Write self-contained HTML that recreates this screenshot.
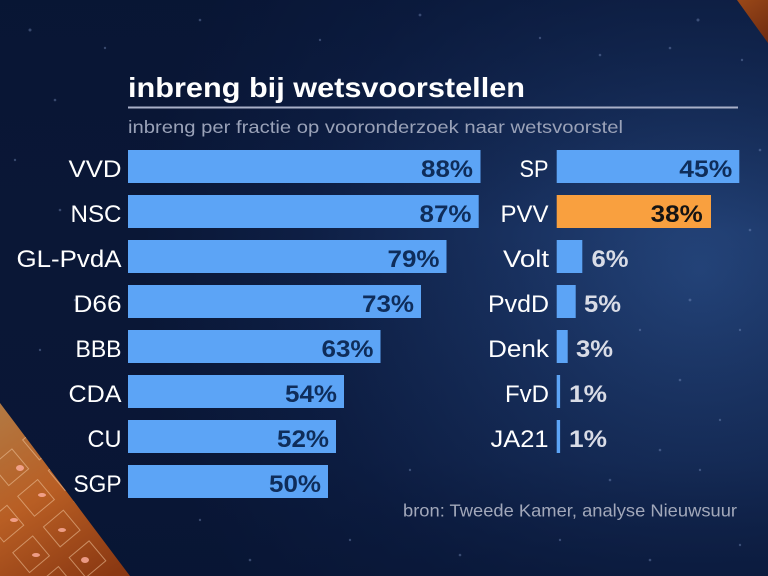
<!DOCTYPE html>
<html>
<head>
<meta charset="utf-8">
<style>
html,body{margin:0;padding:0;width:768px;height:576px;overflow:hidden;background:#0b1838;}
svg{display:block;}
text{font-family:"Liberation Sans",sans-serif;}
</style>
</head>
<body>
<svg width="768" height="576" viewBox="0 0 768 576" xmlns="http://www.w3.org/2000/svg">
<defs>
<radialGradient id="bg" cx="700" cy="270" r="560" gradientUnits="userSpaceOnUse">
<stop offset="0" stop-color="#24447a"/>
<stop offset="0.35" stop-color="#18305e"/>
<stop offset="0.7" stop-color="#0e1f45"/>
<stop offset="1" stop-color="#0a1736"/>
</radialGradient>
<linearGradient id="bgv" x1="0" y1="0" x2="0" y2="576" gradientUnits="userSpaceOnUse">
<stop offset="0" stop-color="#071433" stop-opacity="0.5"/>
<stop offset="0.4" stop-color="#071433" stop-opacity="0"/>
<stop offset="0.8" stop-color="#071433" stop-opacity="0.2"/>
<stop offset="1" stop-color="#071433" stop-opacity="0.6"/>
</linearGradient>
<linearGradient id="or" x1="0" y1="400" x2="110" y2="576" gradientUnits="userSpaceOnUse">
<stop offset="0" stop-color="#b27a44"/>
<stop offset="0.5" stop-color="#b85e24"/>
<stop offset="1" stop-color="#8a3812"/>
</linearGradient>
<linearGradient id="or2" x1="737" y1="0" x2="768" y2="43" gradientUnits="userSpaceOnUse">
<stop offset="0" stop-color="#9a4818"/>
<stop offset="1" stop-color="#6e2a10"/>
</linearGradient>
<clipPath id="oc"><polygon points="0,403 130,576 0,576"/></clipPath>
</defs>

<rect width="768" height="576" fill="url(#bg)"/>
<rect width="768" height="576" fill="url(#bgv)"/>

<!-- stars -->
<g fill="#8fa6d6" opacity="0.35">
<circle cx="30" cy="30" r="1.5"/><circle cx="105" cy="48" r="1.2"/><circle cx="200" cy="20" r="1.3"/><circle cx="320" cy="40" r="1.2"/>
<circle cx="420" cy="15" r="1.4"/><circle cx="540" cy="38" r="1.2"/><circle cx="600" cy="55" r="1.3"/><circle cx="698" cy="20" r="1.5"/>
<circle cx="670" cy="48" r="1.3"/><circle cx="742" cy="60" r="1.2"/><circle cx="55" cy="100" r="1.3"/><circle cx="15" cy="160" r="1.2"/>
<circle cx="60" cy="210" r="1.3"/><circle cx="20" cy="260" r="1.2"/><circle cx="75" cy="300" r="1.3"/><circle cx="40" cy="350" r="1.2"/>
<circle cx="760" cy="150" r="1.3"/><circle cx="710" cy="200" r="1.2"/><circle cx="750" cy="230" r="1.3"/><circle cx="690" cy="300" r="1.4"/>
<circle cx="740" cy="330" r="1.2"/><circle cx="680" cy="380" r="1.3"/><circle cx="720" cy="420" r="1.2"/><circle cx="660" cy="450" r="1.3"/>
<circle cx="700" cy="470" r="1.2"/><circle cx="610" cy="480" r="1.3"/><circle cx="740" cy="545" r="1.2"/><circle cx="650" cy="560" r="1.3"/>
<circle cx="560" cy="540" r="1.2"/><circle cx="460" cy="555" r="1.3"/><circle cx="350" cy="540" r="1.2"/><circle cx="250" cy="560" r="1.3"/>
<circle cx="200" cy="520" r="1.2"/><circle cx="150" cy="480" r="1.3"/><circle cx="640" cy="330" r="1.2"/><circle cx="620" cy="260" r="1.2"/>
<circle cx="500" cy="510" r="1.2"/><circle cx="410" cy="470" r="1.2"/>
</g>

<!-- orange panels -->
<polygon points="0,403 130,576 0,576" fill="url(#or)"/>
<g clip-path="url(#oc)" fill="none" stroke="#f3c9a0" stroke-opacity="0.55" stroke-width="1">
<g transform="rotate(-40 60 500)">
<rect x="-10" y="430" width="26" height="26"/><rect x="30" y="430" width="26" height="26"/><rect x="70" y="430" width="26" height="26"/>
<rect x="-10" y="470" width="26" height="26"/><rect x="30" y="470" width="26" height="26"/><rect x="70" y="470" width="26" height="26"/><rect x="110" y="470" width="26" height="26"/>
<rect x="-10" y="510" width="26" height="26"/><rect x="30" y="510" width="26" height="26"/><rect x="70" y="510" width="26" height="26"/><rect x="110" y="510" width="26" height="26"/>
<rect x="-10" y="550" width="26" height="26"/><rect x="30" y="550" width="26" height="26"/><rect x="70" y="550" width="26" height="26"/><rect x="110" y="550" width="26" height="26"/>
</g>
</g>
<g clip-path="url(#oc)" fill="#ffb0a0" opacity="0.8">
<ellipse cx="20" cy="468" rx="4" ry="3"/><ellipse cx="42" cy="495" rx="4" ry="2"/><ellipse cx="14" cy="520" rx="4" ry="2"/>
<ellipse cx="62" cy="530" rx="4" ry="2"/><ellipse cx="36" cy="555" rx="4" ry="2"/><ellipse cx="85" cy="560" rx="4" ry="3"/>
</g>
<polygon points="737,0 768,0 768,43" fill="url(#or2)"/>

<!-- title -->
<text x="128" y="97" font-size="28" font-weight="bold" fill="#ffffff" textLength="397" lengthAdjust="spacingAndGlyphs">inbreng bij wetsvoorstellen</text>
<rect x="128" y="106.5" width="610" height="2" fill="#a9b0c8"/>
<text x="128" y="133" font-size="17.5" fill="#9aa2b8" textLength="495" lengthAdjust="spacingAndGlyphs">inbreng per fractie op vooronderzoek naar wetsvoorstel</text>

<!-- left column bars -->
<g fill="#5ca4f6">
<rect x="128" y="150" width="352.5" height="33"/>
<rect x="128" y="195" width="350.7" height="33"/>
<rect x="128" y="240" width="318.5" height="33"/>
<rect x="128" y="285" width="293" height="33"/>
<rect x="128" y="330" width="252.5" height="33"/>
<rect x="128" y="375" width="216" height="33"/>
<rect x="128" y="420" width="208" height="33"/>
<rect x="128" y="465" width="200" height="33"/>
</g>
<g font-size="24" fill="#ffffff" text-anchor="end">
<text x="121.5" y="177" textLength="53" lengthAdjust="spacingAndGlyphs">VVD</text>
<text x="121.5" y="222" textLength="51" lengthAdjust="spacingAndGlyphs">NSC</text>
<text x="121.5" y="267" textLength="105" lengthAdjust="spacingAndGlyphs">GL-PvdA</text>
<text x="121.5" y="312" textLength="48" lengthAdjust="spacingAndGlyphs">D66</text>
<text x="121.5" y="357" textLength="46" lengthAdjust="spacingAndGlyphs">BBB</text>
<text x="121.5" y="402" textLength="53" lengthAdjust="spacingAndGlyphs">CDA</text>
<text x="121.5" y="447" textLength="34" lengthAdjust="spacingAndGlyphs">CU</text>
<text x="121.5" y="492" textLength="48" lengthAdjust="spacingAndGlyphs">SGP</text>
</g>
<g font-size="24" font-weight="bold" fill="#0f2d5a" text-anchor="end">
<text x="473" y="177" textLength="52" lengthAdjust="spacingAndGlyphs">88%</text>
<text x="471.5" y="222" textLength="52" lengthAdjust="spacingAndGlyphs">87%</text>
<text x="439.5" y="267" textLength="52" lengthAdjust="spacingAndGlyphs">79%</text>
<text x="414" y="312" textLength="52" lengthAdjust="spacingAndGlyphs">73%</text>
<text x="373.5" y="357" textLength="52" lengthAdjust="spacingAndGlyphs">63%</text>
<text x="337" y="402" textLength="52" lengthAdjust="spacingAndGlyphs">54%</text>
<text x="329" y="447" textLength="52" lengthAdjust="spacingAndGlyphs">52%</text>
<text x="321" y="492" textLength="52" lengthAdjust="spacingAndGlyphs">50%</text>
</g>

<!-- right column bars -->
<rect x="556.7" y="150" width="182.6" height="33" fill="#5ca4f6"/>
<rect x="556.7" y="195" width="154.3" height="33" fill="#f9a03f"/>
<g fill="#5ca4f6">
<rect x="556.7" y="240" width="25.6" height="33"/>
<rect x="556.7" y="285" width="19" height="33"/>
<rect x="556.7" y="330" width="11" height="33"/>
<rect x="556.7" y="375" width="3.4" height="33"/>
<rect x="556.7" y="420" width="3.4" height="33"/>
</g>
<g font-size="24" fill="#ffffff" text-anchor="end">
<text x="548.5" y="177" textLength="29" lengthAdjust="spacingAndGlyphs">SP</text>
<text x="548.5" y="222" textLength="48" lengthAdjust="spacingAndGlyphs">PVV</text>
<text x="549" y="267" textLength="46" lengthAdjust="spacingAndGlyphs">Volt</text>
<text x="549" y="312" textLength="61" lengthAdjust="spacingAndGlyphs">PvdD</text>
<text x="549" y="357" textLength="61" lengthAdjust="spacingAndGlyphs">Denk</text>
<text x="549" y="402" textLength="44" lengthAdjust="spacingAndGlyphs">FvD</text>
<text x="548.5" y="447" textLength="58" lengthAdjust="spacingAndGlyphs">JA21</text>
</g>
<text x="732.3" y="177" font-size="24" font-weight="bold" fill="#0f2d5a" text-anchor="end" textLength="53" lengthAdjust="spacingAndGlyphs">45%</text>
<text x="702.7" y="222" font-size="24" font-weight="bold" fill="#141414" text-anchor="end" textLength="52" lengthAdjust="spacingAndGlyphs">38%</text>
<g font-size="24" font-weight="bold" fill="#d9dce6">
<text x="591.5" y="267" textLength="37" lengthAdjust="spacingAndGlyphs">6%</text>
<text x="584" y="312" textLength="37" lengthAdjust="spacingAndGlyphs">5%</text>
<text x="576" y="357" textLength="37" lengthAdjust="spacingAndGlyphs">3%</text>
<text x="569" y="402" textLength="38" lengthAdjust="spacingAndGlyphs">1%</text>
<text x="569" y="447" textLength="38" lengthAdjust="spacingAndGlyphs">1%</text>
</g>

<!-- source -->
<text x="403" y="516.5" font-size="17.5" fill="#a2a8ba" textLength="334" lengthAdjust="spacingAndGlyphs">bron: Tweede Kamer, analyse Nieuwsuur</text>
</svg>
</body>
</html>
